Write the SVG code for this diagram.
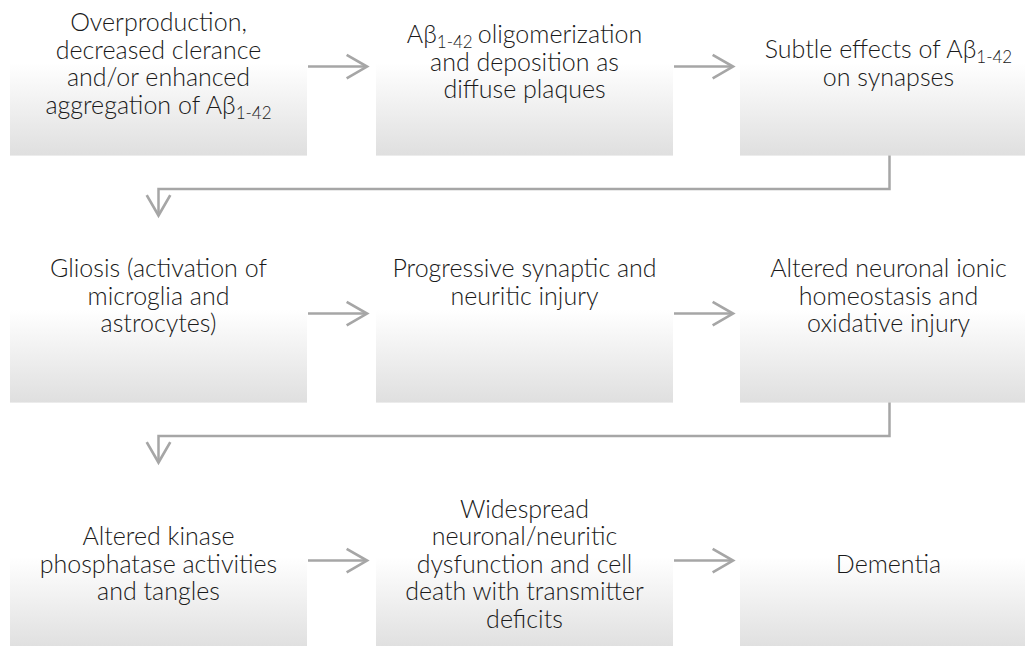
<svg xmlns="http://www.w3.org/2000/svg" width="1025" height="646" viewBox="0 0 1025 646">
<defs>
<linearGradient id="g" x1="0" y1="0" x2="0" y2="1">
<stop offset="0" stop-color="#ffffff"/>
<stop offset="0.48" stop-color="#ffffff"/>
<stop offset="1" stop-color="#dfdfdf"/>
</linearGradient>
<marker id="ah" markerUnits="userSpaceOnUse" markerWidth="30" markerHeight="30" viewBox="-22 -14 26 28" refX="0" refY="0" orient="auto">
<path d="M-19,-11 L0,0 L-19,11" fill="none" stroke="#a6a6a6" stroke-width="2.5"/>
</marker>
</defs>
<style>
.box{fill:url(#g);}
.t{font-family:Lato,"Open Sans","Liberation Sans",sans-serif;font-weight:300;font-size:25px;fill:#1a1a1a;text-anchor:middle;}
.s{font-size:17px;}
.c{fill:none;stroke:#a6a6a6;stroke-width:2.5;}
</style>
<rect width="1025" height="646" fill="#ffffff"/>
<g id="n1"><rect class="box" x="10" y="-22.4" width="297" height="178"/>
<text class="t"><tspan x="158.5" y="31">Overproduction,</tspan><tspan x="158.5" y="58.5">decreased clerance</tspan><tspan x="158.5" y="86">and/or enhanced</tspan><tspan x="158.5" y="113.5">aggregation of Aβ<tspan class="s" dy="5">1-42</tspan></tspan></text></g>
<g id="n2"><rect class="box" x="376" y="-22.4" width="297" height="178"/>
<text class="t"><tspan x="524.5" y="43">Aβ<tspan class="s" dy="5">1-42</tspan><tspan dy="-5" dx="5">oligomerization</tspan></tspan><tspan x="524.5" y="70.5">and deposition as</tspan><tspan x="524.5" y="98">diffuse plaques</tspan></text></g>
<g id="n3"><rect class="box" x="740" y="-22.4" width="297" height="178"/>
<text class="t"><tspan x="888.5" y="58">Subtle effects of Aβ<tspan class="s" dy="5">1-42</tspan></tspan><tspan x="888.5" y="85.5">on synapses</tspan></text></g>
<g id="n4"><rect class="box" x="10" y="224.6" width="297" height="178"/>
<text class="t"><tspan x="158.5" y="277">Gliosis (activation of</tspan><tspan x="158.5" y="304.5">microglia and</tspan><tspan x="158.5" y="332">astrocytes)</tspan></text></g>
<g id="n5"><rect class="box" x="376" y="224.6" width="297" height="178"/>
<text class="t"><tspan x="524.5" y="277">Progressive synaptic and</tspan><tspan x="524.5" y="304.5">neuritic injury</tspan></text></g>
<g id="n6"><rect class="box" x="740" y="224.6" width="297" height="178"/>
<text class="t"><tspan x="888.5" y="277">Altered neuronal ionic</tspan><tspan x="888.5" y="304.5">homeostasis and</tspan><tspan x="888.5" y="332">oxidative injury</tspan></text></g>
<g id="n7"><rect class="box" x="10" y="471.6" width="297" height="178"/>
<text class="t"><tspan x="158.5" y="545">Altered kinase</tspan><tspan x="158.5" y="572.5">phosphatase activities</tspan><tspan x="158.5" y="600">and tangles</tspan></text></g>
<g id="n8"><rect class="box" x="376" y="471.6" width="297" height="178"/>
<text class="t"><tspan x="524.5" y="517.5">Widespread</tspan><tspan x="524.5" y="545">neuronal/neuritic</tspan><tspan x="524.5" y="572.5">dysfunction and cell</tspan><tspan x="524.5" y="600">death with transmitter</tspan><tspan x="524.5" y="627.5">deficits</tspan></text></g>
<g id="n9"><rect class="box" x="740" y="471.6" width="297" height="178"/>
<text class="t"><tspan x="888.5" y="572.5">Dementia</tspan></text></g>
<g id="connectors">
<path class="c" marker-end="url(#ah)" d="M308,66.6 H367"/>
<path class="c" marker-end="url(#ah)" d="M674,66.6 H733"/>
<path class="c" marker-end="url(#ah)" d="M889.5,155.6 V189 H158.5 V215.5"/>
<path class="c" marker-end="url(#ah)" d="M308,313.6 H367"/>
<path class="c" marker-end="url(#ah)" d="M674,313.6 H733"/>
<path class="c" marker-end="url(#ah)" d="M889.5,402.6 V436 H158.5 V462.5"/>
<path class="c" marker-end="url(#ah)" d="M308,560.6 H367"/>
<path class="c" marker-end="url(#ah)" d="M674,560.6 H733"/>
</g>
</svg>
